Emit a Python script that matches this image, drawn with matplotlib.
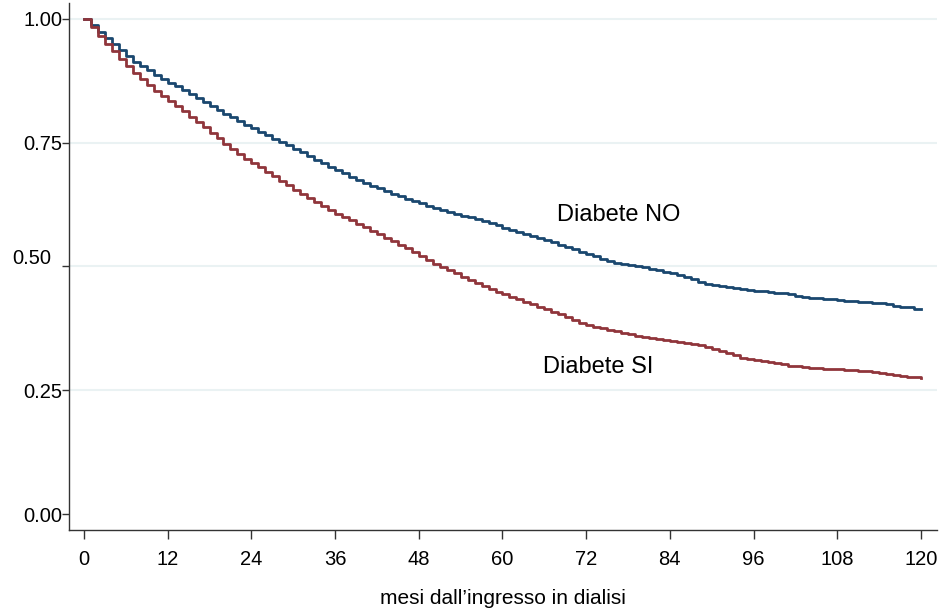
import matplotlib
matplotlib.use("Agg")
import matplotlib.pyplot as plt
import numpy as np

months = list(range(0, 121))

surv_no = [1.000, 0.987, 0.974, 0.961, 0.949, 0.937, 0.925, 0.914, 0.905, 0.896,
           0.887, 0.879, 0.871, 0.864, 0.857, 0.849, 0.841, 0.833, 0.825, 0.817,
           0.809, 0.801, 0.793, 0.786, 0.779, 0.772, 0.765, 0.758, 0.752, 0.745,
           0.738, 0.731, 0.724, 0.716, 0.709, 0.702, 0.695, 0.688, 0.681, 0.675,
           0.669, 0.663, 0.658, 0.652, 0.647, 0.642, 0.637, 0.632, 0.628, 0.623,
           0.619, 0.615, 0.611, 0.607, 0.603, 0.599, 0.595, 0.591, 0.587, 0.583,
           0.578, 0.574, 0.570, 0.566, 0.561, 0.557, 0.553, 0.549, 0.544, 0.540,
           0.535, 0.530, 0.526, 0.521, 0.516, 0.512, 0.508, 0.506, 0.504, 0.502,
           0.499, 0.495, 0.492, 0.489, 0.486, 0.482, 0.478, 0.474, 0.469, 0.465,
           0.462, 0.460, 0.458, 0.456, 0.454, 0.452, 0.451, 0.450, 0.449, 0.447,
           0.446, 0.444, 0.441, 0.438, 0.437, 0.436, 0.435, 0.434, 0.432, 0.431,
           0.430, 0.429, 0.428, 0.427, 0.426, 0.424, 0.421, 0.419, 0.418, 0.415,
           0.414]

surv_si = [1.000, 0.983, 0.966, 0.950, 0.935, 0.920, 0.905, 0.891, 0.878, 0.866,
           0.855, 0.844, 0.834, 0.824, 0.814, 0.803, 0.792, 0.781, 0.770, 0.759,
           0.748, 0.737, 0.727, 0.718, 0.709, 0.700, 0.691, 0.682, 0.673, 0.664,
           0.655, 0.646, 0.638, 0.630, 0.622, 0.614, 0.607, 0.600, 0.593, 0.586,
           0.579, 0.572, 0.565, 0.558, 0.551, 0.544, 0.537, 0.530, 0.522, 0.514,
           0.506, 0.499, 0.492, 0.486, 0.479, 0.473, 0.467, 0.461, 0.455, 0.449,
           0.444, 0.439, 0.434, 0.429, 0.424, 0.419, 0.414, 0.409, 0.404, 0.398,
           0.392, 0.386, 0.381, 0.378, 0.375, 0.372, 0.369, 0.366, 0.363, 0.360,
           0.358, 0.356, 0.354, 0.351, 0.349, 0.347, 0.345, 0.343, 0.341, 0.338,
           0.334, 0.330, 0.326, 0.321, 0.316, 0.313, 0.311, 0.309, 0.307, 0.305,
           0.303, 0.300, 0.298, 0.296, 0.295, 0.294, 0.293, 0.293, 0.292, 0.291,
           0.290, 0.289, 0.288, 0.286, 0.284, 0.282, 0.280, 0.278, 0.277, 0.276,
           0.275]

x_ticks = [0, 12, 24, 36, 48, 60, 72, 84, 96, 108, 120]
y_ticks = [0.00, 0.25, 0.50, 0.75, 1.00]
y_tick_labels = ["0.00", "0.25", "0.50", "0.75", "1.00"]
label_no = "Diabete NO"
label_si = "Diabete SI"
x_title = "mesi dall\u2019ingresso in dialisi"

plt.rcParams['font.family'] = ['Liberation Sans', 'DejaVu Sans']

fig = plt.figure(figsize=(9.4, 6.09), dpi=100)
ax = fig.add_axes([69/940, 79/609, (937-69)/940, (530-3)/609])

for yv in [0.25, 0.50, 0.75, 1.00]:
    ax.axhline(yv, color='#eaf2f3', lw=1.5, zorder=0)

ax.step(months, surv_no, where='post', color='#1a476f', lw=2.0, zorder=3)
ax.step(months, surv_si, where='post', color='#90353b', lw=2.0, zorder=3)

ax.set_xlim(-2.15, 122.3)
ax.set_ylim(-0.0323, 1.0323)

ax.set_xticks(x_ticks)
ax.set_xticklabels([str(v) for v in x_ticks], fontsize=14.5)
ax.set_yticks(y_ticks)
ax.set_yticklabels([l if l != "0.50" else "" for l in y_tick_labels], fontsize=14.5)
ax.annotate("0.50", xy=(0, 0.50), xycoords=('axes fraction', 'data'),
            xytext=(-13, 5.5), textcoords='offset points', ha='right', va='center',
            fontsize=14.5, color='black')

for s in ['top', 'right']:
    ax.spines[s].set_visible(False)
for s in ['left', 'bottom']:
    ax.spines[s].set_color('#333333')
    ax.spines[s].set_linewidth(1.0)

ax.tick_params(axis='y', direction='out', length=5, width=1.0, color='#333333', pad=0)
ax.tick_params(axis='x', direction='out', length=6.5, width=1.0, color='#333333', pad=8)

ax.text(76.7, 0.604, label_no, ha='center', va='center', fontsize=17)
ax.text(73.7, 0.297, label_si, ha='center', va='center', fontsize=17)

ax.set_xlabel(x_title, fontsize=15, labelpad=14)

fig.savefig("out.png", dpi=100)
